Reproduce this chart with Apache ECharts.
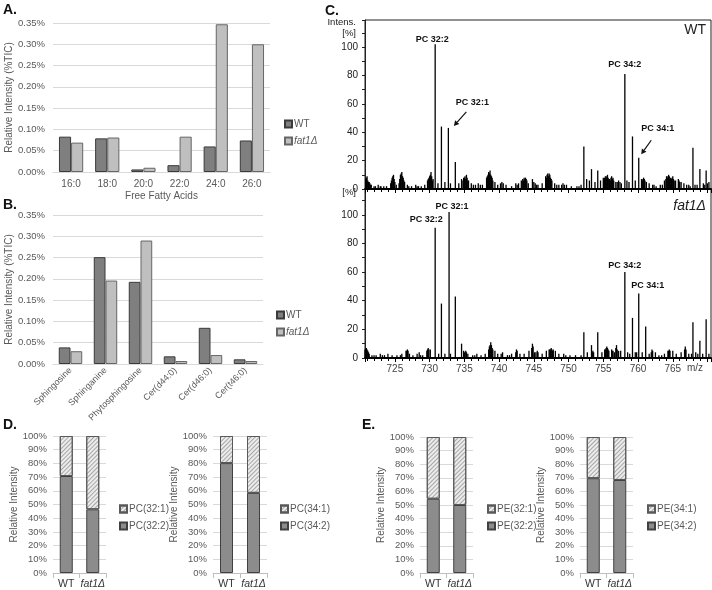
<!DOCTYPE html>
<html>
<head>
<meta charset="utf-8">
<script src="https://cdn.jsdelivr.net/npm/echarts@6/dist/echarts.min.js"></script>
<style>html,body{margin:0;padding:0;background:#fff}#c{width:712px;height:590px}</style>
</head>
<body>
<div id="c"></div>
<script>
// ---------- DATA ----------
const faCats = ['16:0', '18:0', '20:0', '22:0', '24:0', '26:0'];
const faWT = [0.083, 0.079, 0.006, 0.016, 0.060, 0.074];
const faFat1 = [0.069, 0.081, 0.010, 0.083, 0.347, 0.300];

const spCats = ['Sphingosine', 'Sphinganine', 'Phytosphingosine', 'Cer(d44:0)', 'Cer(d46:0)', 'Cer(t46:0)'];
const spWT = [0.039, 0.251, 0.193, 0.018, 0.085, 0.011];
const spFat1 = [0.030, 0.196, 0.290, 0.007, 0.021, 0.007];

// spectra: [m/z, intensity %]
const peaksWT = [[730.8, 102], [731.7, 44], [732.7, 43], [733.7, 19], [752.2, 30], [753.3, 14], [754.2, 13],
  [758.1, 81], [759.2, 37], [760.1, 22], [767.9, 29], [768.9, 14], [769.8, 13]];
const noiseWT = [[720.8,7],[721.0,9],[721.2,5],[721.4,4],[721.6,3],[722.0,2],[722.6,3],[722.9,2],[723.4,2],[723.8,2],
  [724.4,4],[724.6,8],[724.8,10],[725.0,5],[725.2,3],[725.6,4],[725.8,10],[726.0,12],[726.2,8],[726.4,5],[726.8,3],
  [727.4,2],[728.0,3],[728.4,2],[728.8,2],[729.3,3],[729.7,6],[730.0,9],[730.2,12],[730.5,7],[731.2,4],[732.2,5],
  [733.0,4],[734.2,4],[734.6,7],[735.0,8],[735.3,10],[735.6,6],[736.0,4],[736.6,3],[737.0,4],[737.6,3],[738.2,8],
  [738.5,12],[738.7,13],[739.0,8],[739.4,5],[739.8,3],[740.4,5],[741.0,3],[741.8,2],[742.4,4],[742.8,4],[743.2,6],
  [743.6,8],[743.9,7],[744.2,4],[744.8,7],[745.0,5],[745.6,3],[746.2,4],[746.7,9],[747.0,11],[747.3,10],[747.6,6],
  [748.0,4],[748.6,3],[749.2,4],[749.7,3],[750.4,2],[751.2,2],[751.8,3],[752.6,7],[753.0,6],[753.8,5],[754.6,6],
  [755.0,8],[755.3,9],[755.6,10],[755.9,7],[756.2,9],[756.5,6],[756.8,5],[757.2,6],[757.6,4],[758.4,6],[758.7,5],
  [759.6,6],[760.5,7],[760.8,8],[761.2,5],[761.6,4],[762.1,3],[762.6,2],[763.2,3],[763.8,6],[764.1,9],[764.4,10],
  [764.7,8],[765.0,9],[765.4,6],[765.8,7],[766.2,5],[766.6,4],[767.0,3],[767.5,2],[768.2,3],[769.4,4],[770.2,5],
  [720.9,8],[721.1,6],[721.3,5],[721.5,3],[724.5,6],[724.7,9],[724.9,7],[725.7,7],[725.9,11],[726.1,9],[726.3,6],
  [729.8,7],[729.9,8],[730.1,10],[730.3,9],[730.4,6],[734.8,6],[734.9,8],[735.1,9],[735.2,7],[735.4,8],[735.5,6],
  [738.3,9],[738.4,10],[738.6,11],[738.8,10],[738.9,9],[739.1,6],[743.4,7],[743.5,6],[743.7,7],[743.8,8],[744.0,6],
  [746.8,8],[746.9,10],[747.1,9],[747.2,11],[747.4,8],[747.5,7],[755.1,7],[755.2,8],[755.4,8],[755.5,9],[755.7,8],
  [755.8,7],[756.0,6],[756.1,8],[756.3,7],[756.4,8],[764.0,7],[764.2,8],[764.3,9],[764.5,9],[764.6,7],[764.8,7],
  [764.9,8],[765.1,7],[765.2,6],[765.9,6],[766.0,5],[760.6,6],[760.7,7],[760.9,7],[761.0,6],[722.2,2],[723.0,2],
  [727.0,2],[728.2,2],[736.3,3],[737.3,3],[740.2,4],[740.6,4],[742.6,3],[745.2,4],[745.4,3],[748.3,3],[749.0,3],
  [749.4,3],[751.5,2],[757.0,5],[757.4,5],[762.3,3],[763.5,3],[767.3,3],[768.5,3],[769.6,3],[770.0,4]];

const peaksFat1 = [[730.8, 91], [731.7, 38], [732.8, 102], [733.7, 43], [734.6, 10], [752.2, 18], [753.3, 9], [754.2, 18],
  [758.1, 60], [759.2, 28], [760.1, 45], [761.1, 22], [767.9, 25], [768.9, 12], [769.8, 27]];
const noiseFat1 = [[720.7,6],[720.9,7],[721.1,5],[721.3,3],[721.7,2],[722.3,2],[722.9,3],[723.5,2],[724.0,3],[724.6,2],
  [725.3,2],[726.0,3],[726.6,5],[726.8,6],[727.1,3],[727.6,2],[728.2,3],[728.5,4],[729.0,2],[729.6,5],[729.8,7],
  [730.1,6],[731.3,3],[732.2,3],[734.9,5],[735.2,5],[735.5,3],[736.2,2],[736.8,3],[737.4,2],[738.0,3],[738.6,8],
  [738.8,11],[739.1,6],[739.4,5],[739.8,3],[740.5,4],[741.2,2],[741.8,3],[742.5,6],[743.0,3],[743.6,3],[744.3,5],
  [744.8,10],[745.1,4],[745.5,5],[746.2,3],[746.8,5],[747.2,6],[747.5,7],[747.8,6],[748.1,5],[748.6,3],[749.3,3],
  [750.2,2],[751.0,2],[751.8,2],[752.7,4],[753.5,5],[754.8,4],[755.2,6],[755.5,8],[755.8,5],[756.2,6],[756.6,4],
  [756.9,9],[757.2,5],[757.5,5],[758.5,4],[759.6,4],[759.8,4],[760.6,4],[761.6,3],[762.0,6],[762.5,4],[763.0,2],
  [763.8,3],[764.3,5],[764.5,6],[765.0,5],[765.5,3],[766.2,4],[766.8,8],[767.3,3],[768.3,4],[769.3,3],[770.2,3],
  [720.8,6],[721.0,6],[721.2,4],[726.7,5],[726.9,5],[729.7,6],[729.9,6],[738.5,6],[738.7,9],[738.9,9],[739.0,7],
  [744.7,7],[744.9,8],[747.3,6],[747.4,6],[747.6,6],[747.7,5],[755.3,6],[755.4,7],[755.6,7],[755.7,6],[756.8,7],
  [757.0,6],[764.4,5],[764.6,5],[766.7,6],[766.9,6],[762.1,5],[761.9,4],[735.0,4],[735.3,4],[753.4,4],[753.6,4],
  [756.3,5],[756.4,5],[745.3,4],[745.6,4],[742.4,4],[742.6,5],[722.0,2],[723.2,2],[725.8,2],[728.7,2],[733.0,3],
  [736.5,2],[740.3,3],[741.5,2],[749.6,2],[758.8,3],[763.4,2],[767.7,3],[768.6,3]];

const stackCats = ['WT', 'fat1Δ'];
const pc322 = [70.8, 46.5];
const pc321 = [29.2, 53.5];
const pc342 = [80.2, 58.5];
const pc341 = [19.8, 41.5];
const pe322 = [54.6, 50.0];
const pe321 = [45.4, 50.0];
const pe342 = [69.7, 68.4];
const pe341 = [30.3, 31.6];

// ---------- STYLE ----------
const FONT = 'Liberation Sans, Arial, sans-serif';
const GREY = '#595959';
const GRIDC = '#d9d9d9';
const italicRich = { i: { fontStyle: 'italic', fontFamily: FONT, fontSize: 10, color: GREY } };
const fmtName = n => n === 'fat1Δ' ? '{i|fat1Δ}' : n;

const chart = echarts.init(document.getElementById('c'), null, { renderer: 'canvas' });

const grids = [
  { left: 53, top: 23, width: 217, height: 149 },   // A
  { left: 53, top: 215, width: 210, height: 149 },  // B
  { left: 365, top: 20, width: 346, height: 169, show: true, borderColor: '#222', borderWidth: 1 }, // C top
  { left: 365, top: 189, width: 346, height: 169, show: true, borderColor: '#222', borderWidth: 1 }, // C bottom
  { left: 53, top: 436, width: 53, height: 138 },   // D1
  { left: 213, top: 436, width: 54, height: 138 },  // D2
  { left: 420, top: 437, width: 53, height: 137 },  // E1
  { left: 580, top: 437, width: 53, height: 137 }   // E2
];

function pctAxis(gi, nameGap) {
  return {
    type: 'value', gridIndex: gi, min: 0, max: 0.35, interval: 0.05,
    name: 'Relative Intensity (%TIC)', nameLocation: 'middle', nameGap: nameGap,
    nameTextStyle: { fontFamily: FONT, fontSize: 10, color: GREY },
    axisLabel: { fontFamily: FONT, fontSize: 9.5, color: GREY, formatter: v => v.toFixed(2) + '%' },
    splitLine: { lineStyle: { color: GRIDC } }, axisLine: { show: false }, axisTick: { show: false }
  };
}
function stackYAxis(gi) {
  return {
    type: 'value', gridIndex: gi, min: 0, max: 100, interval: 10,
    name: 'Relative Intensity', nameLocation: 'middle', nameGap: 32,
    nameTextStyle: { fontFamily: FONT, fontSize: 10, color: GREY },
    axisLabel: { fontFamily: FONT, fontSize: 9.5, color: GREY, formatter: '{value}%', margin: 6 },
    splitLine: { lineStyle: { color: GRIDC } }, axisLine: { show: false }, axisTick: { show: false }
  };
}
function stackXAxis(gi) {
  return {
    type: 'category', gridIndex: gi, data: stackCats,
    axisLine: { lineStyle: { color: '#bfbfbf' } },
    axisTick: { show: true, length: 5, lineStyle: { color: '#bfbfbf' } },
    axisLabel: { interval: 0, hideOverlap: false, fontFamily: FONT, fontSize: 10.5, color: '#333', margin: 6, formatter: fmtName,
      rich: { i: { fontStyle: 'italic', fontFamily: FONT, fontSize: 10.5, color: '#333' } } }
  };
}
function specX(gi, showLabels) {
  return {
    type: 'value', gridIndex: gi, min: 720.7, max: 770.5, splitNumber: 10,
    axisLine: { onZero: false, lineStyle: { color: '#000', width: 2 } },
    axisTick: { show: true, length: 4, lineStyle: { color: '#000' } },
    minorTick: { show: true, splitNumber: 5, length: 3, lineStyle: { color: '#000' } },
    axisLabel: { show: showLabels, showMinLabel: false, showMaxLabel: false, fontFamily: FONT, fontSize: 10, color: '#444', margin: 6,
      formatter: v => (v < 722 || v > 768) ? '' : String(v) },
    splitLine: { show: false }
  };
}
function specY(gi, max) {
  return {
    type: 'value', gridIndex: gi, min: 0, max: max, interval: 20,
    axisLine: { show: true, lineStyle: { color: '#222' } },
    axisTick: { show: true, length: 3, lineStyle: { color: '#222' } },
    minorTick: { show: true, splitNumber: 2, length: 3, lineStyle: { color: '#222' } },
    axisLabel: { showMaxLabel: false, fontFamily: FONT, fontSize: 10, color: '#222', margin: 7 },
    splitLine: { show: false }
  };
}

const hatch = { symbol: 'rect', symbolSize: 1, color: 'rgba(110,110,110,0.55)', dashArrayX: [1, 0], dashArrayY: [1, 2], rotation: -Math.PI / 4 };
const darkStack = { color: '#8c8c8c', borderColor: '#404040', borderWidth: 1 };
const lightStack = { color: '#ececec', borderColor: '#595959', borderWidth: 1, decal: hatch };
const wtStyle = { color: '#7f7f7f', borderColor: '#3a3a3a', borderWidth: 1 };
const fatStyle = { color: '#bfbfbf', borderColor: '#666', borderWidth: 1 };

function stackSeries(ax, nameDark, dark, nameLight, light) {
  return [
    { type: 'bar', name: nameDark, xAxisIndex: ax, yAxisIndex: ax, stack: 's' + ax, data: dark, barWidth: 13, itemStyle: darkStack },
    { type: 'bar', name: nameLight, xAxisIndex: ax, yAxisIndex: ax, stack: 's' + ax, data: light, barWidth: 13, itemStyle: lightStack }
  ];
}
function legendAt(left, top, data) {
  return {
    left: left, top: top, orient: 'vertical', itemWidth: 7, itemHeight: 7, itemGap: 7, icon: 'rect',
    data: data, selectedMode: false, formatter: fmtName,
    textStyle: { fontFamily: FONT, fontSize: 10, color: GREY, padding: [0, 0, 0, -3], rich: italicRich }
  };
}

const option = {
  animation: false,
  aria: { enabled: false },
  grid: grids,
  xAxis: [
    { type: 'category', gridIndex: 0, data: faCats, name: 'Free Fatty Acids', nameLocation: 'middle', nameGap: 19,
      nameTextStyle: { fontFamily: FONT, fontSize: 10, color: GREY },
      axisLine: { lineStyle: { color: GRIDC } }, axisTick: { show: false },
      axisLabel: { fontFamily: FONT, fontSize: 10, color: GREY, margin: 7 } },
    { type: 'category', gridIndex: 1, data: spCats,
      axisLine: { lineStyle: { color: GRIDC } }, axisTick: { show: false },
      axisLabel: { fontFamily: FONT, fontSize: 9, color: GREY, rotate: 45, margin: 5, interval: 0 } },
    specX(2, false), specX(3, true),
    stackXAxis(4), stackXAxis(5), stackXAxis(6), stackXAxis(7)
  ],
  yAxis: [
    pctAxis(0, 37), pctAxis(1, 37),
    specY(2, 119), specY(3, 118),
    stackYAxis(4), stackYAxis(5), stackYAxis(6), stackYAxis(7)
  ],
  legend: [
    legendAt(279, 114, ['WT', 'fat1Δ']),
    legendAt(271, 305, ['WT', 'fat1Δ']),
    legendAt(114, 499, ['PC(32:1)', 'PC(32:2)']),
    legendAt(275, 499, ['PC(34:1)', 'PC(34:2)']),
    legendAt(482, 499, ['PE(32:1)', 'PE(32:2)']),
    legendAt(642, 499, ['PE(34:1)', 'PE(34:2)'])
  ],
  series: [
    { type: 'bar', name: 'WT', xAxisIndex: 0, yAxisIndex: 0, data: faWT, barGap: '0%', barCategoryGap: '33%', itemStyle: wtStyle },
    { type: 'bar', name: 'fat1Δ', xAxisIndex: 0, yAxisIndex: 0, data: faFat1, barGap: '0%', barCategoryGap: '33%', itemStyle: fatStyle },
    { type: 'bar', name: 'WT', xAxisIndex: 1, yAxisIndex: 1, data: spWT, barGap: '0%', barCategoryGap: '33%', itemStyle: wtStyle },
    { type: 'bar', name: 'fat1Δ', xAxisIndex: 1, yAxisIndex: 1, data: spFat1, barGap: '0%', barCategoryGap: '33%', itemStyle: fatStyle },
    { type: 'bar', name: 'specWT', xAxisIndex: 2, yAxisIndex: 2, data: noiseWT.concat(peaksWT), barWidth: 1.3,
      itemStyle: { color: '#000' }, clip: true },
    { type: 'bar', name: 'specFat1', xAxisIndex: 3, yAxisIndex: 3, data: noiseFat1.concat(peaksFat1), barWidth: 1.3,
      itemStyle: { color: '#000' }, clip: true },
    ...stackSeries(4, 'PC(32:2)', pc322, 'PC(32:1)', pc321),
    ...stackSeries(5, 'PC(34:2)', pc342, 'PC(34:1)', pc341),
    ...stackSeries(6, 'PE(32:2)', pe322, 'PE(32:1)', pe321),
    ...stackSeries(7, 'PE(34:2)', pe342, 'PE(34:1)', pe341)
  ]
};
chart.setOption(option);

// ---------- ANNOTATIONS ----------
const g = [];
function txt(x, y, s, o) {
  g.push({ type: 'text', x: x, y: y, style: Object.assign({ text: s, fontFamily: FONT, fill: '#222', fontSize: 10 }, o || {}) });
}
// panel letters
[['A.', 3, 3], ['B.', 3, 198], ['C.', 325, 4], ['D.', 3, 418], ['E.', 362, 418]].forEach(p =>
  txt(p[1], p[2], p[0], { fontSize: 14, fontWeight: 'bold', fill: '#111' }));
// spectrum axis titles
txt(356, 22, 'Intens.', { align: 'right', verticalAlign: 'middle', fontSize: 9.5 });
txt(356, 33, '[%]', { align: 'right', verticalAlign: 'middle', fontSize: 9.5 });
txt(356, 192, '[%]', { align: 'right', verticalAlign: 'middle', fontSize: 9.5 });
txt(706, 30, 'WT', { align: 'right', verticalAlign: 'middle', fontSize: 14, fill: '#222' });
txt(706, 206, 'fat1Δ', { align: 'right', verticalAlign: 'middle', fontSize: 14, fontStyle: 'italic', fill: '#222' });
txt(695, 368, 'm/z', { align: 'center', verticalAlign: 'middle', fontSize: 10, fill: '#444' });

// peak labels: [text, gridIndex, peak m/z, peak height, dx, dy, arrow?]
const peakLabels = [
  ['PC 32:2', 2, 730.8, 102, -3, -5, null],
  ['PC 32:1', 2, 732.7, 43, 24, -25, [18, -16, 5.5, -2]],
  ['PC 34:2', 2, 758.1, 81, 0, -9, null],
  ['PC 34:1', 2, 760.1, 22, 19, -29, [12.5, -17.5, 2.5, -3.5]],
  ['PC 32:1', 3, 732.8, 102, 3, -5, null],
  ['PC 32:2', 3, 730.8, 91, -9, -8, null],
  ['PC 34:2', 3, 758.1, 60, 0, -7, null],
  ['PC 34:1', 3, 760.1, 45, 9, -8, null]
];
peakLabels.forEach(p => {
  const pt = chart.convertToPixel({ gridIndex: p[1] }, [p[2], p[3]]);
  txt(pt[0] + p[4], pt[1] + p[5], p[0], { align: 'center', verticalAlign: 'middle', fontSize: 9, fontWeight: 'bold', fill: '#111' });
  if (p[6]) {
    const a = p[6];
    const x1 = pt[0] + a[0], y1 = pt[1] + a[1], x2 = pt[0] + a[2], y2 = pt[1] + a[3];
    const ang = Math.atan2(y2 - y1, x2 - x1), L = 5, W = 2.8;
    const bx = x2 - L * Math.cos(ang), by = y2 - L * Math.sin(ang);
    g.push({ type: 'line', shape: { x1: x1, y1: y1, x2: bx, y2: by }, style: { stroke: '#111', lineWidth: 1.2 } });
    g.push({ type: 'polygon', shape: { points: [[x2, y2],
      [bx + W * Math.sin(ang), by - W * Math.cos(ang)], [bx - W * Math.sin(ang), by + W * Math.cos(ang)]] },
      style: { fill: '#111' } });
  }
});
chart.setOption({ graphic: g });
</script>
</body>
</html>
